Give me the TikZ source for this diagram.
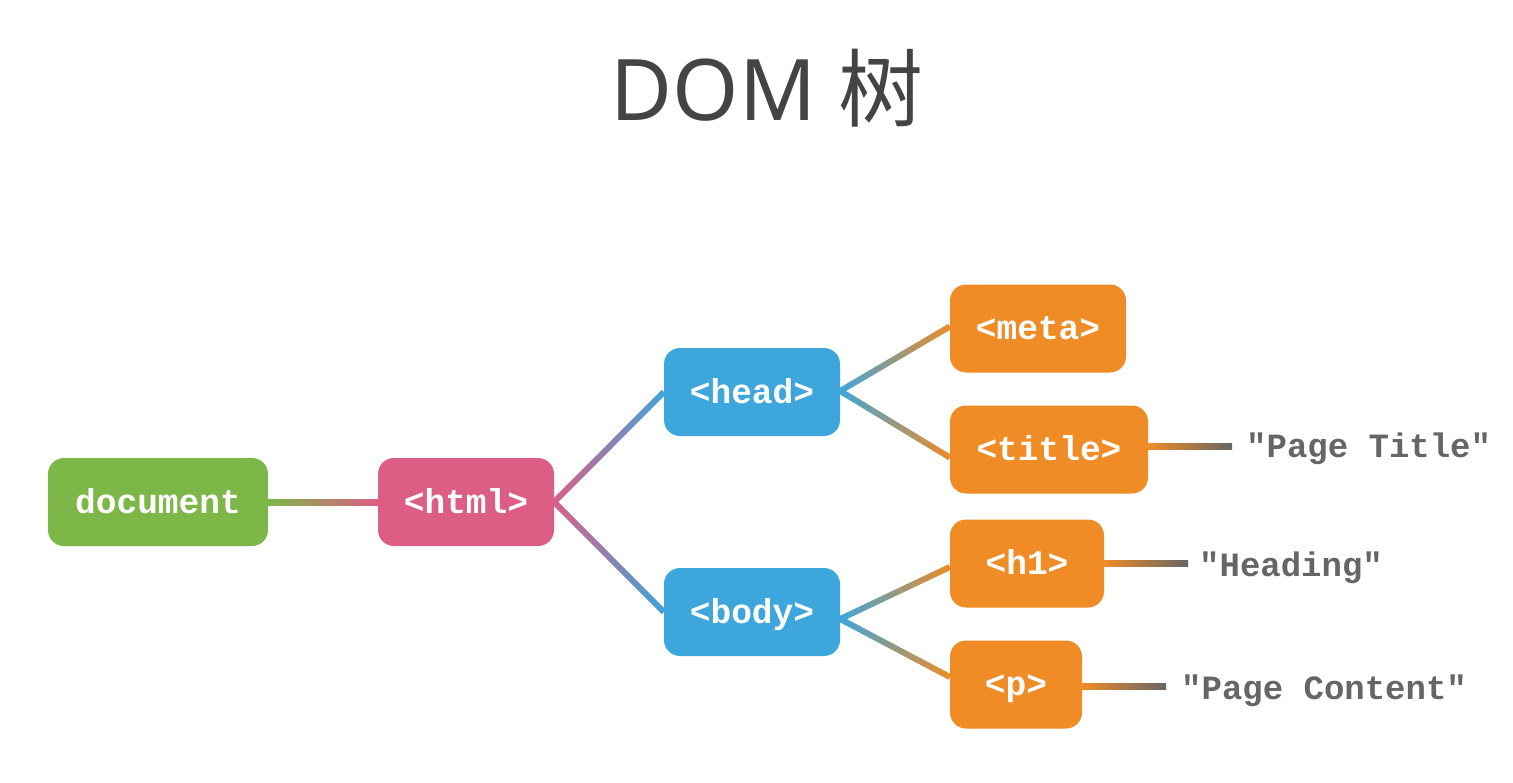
\documentclass[tikz,border=0pt]{standalone}
\usepackage{fontspec}
\setmonofont{Liberation Mono}
\newfontfamily\cjkfont{Noto Sans CJK SC}
\newfontfamily\latfont{Noto Sans}
\usetikzlibrary{calc}
\pgfdeclarelayer{bg}
\pgfdeclarelayer{paper}
\pgfsetlayers{paper,bg,main}
\definecolor{cgreen}{HTML}{7DB748}
\definecolor{cpink}{HTML}{DD5E85}
\definecolor{cblue}{HTML}{3DA6DC}
\definecolor{corange}{HTML}{EF8C25}
\definecolor{cgray}{HTML}{666666}
\definecolor{ctitle}{HTML}{444444}
\newcommand\gradline[4]{%
  \coordinate (ga) at (#1);
  \coordinate (gb) at (#2);
  \pgfpointdiff{\pgfpointanchor{ga}{center}}{\pgfpointanchor{gb}{center}}%
  \pgfgetlastxy{\gdx}{\gdy}%
  \pgfmathsetmacro\gang{atan2(\gdy,\gdx)}%
  \pgfmathsetmacro\glen{veclen(\gdx,\gdy)}%
  \begin{scope}[shift={(ga)}, rotate=\gang]
    \shade[left color=#3, right color=#4] (-1pt,-3pt) rectangle (\glen pt,3pt);
  \end{scope}}
\tikzset{
  box/.style={rounded corners=16pt, minimum height=88pt, text=white,
    font=\ttfamily\bfseries\fontsize{34.5}{34.5}\selectfont,
    text height=27pt, text depth=5pt, inner sep=0pt},
  leaf/.style={anchor=base west, inner sep=0pt, text=cgray,
    font=\ttfamily\bfseries\fontsize{34}{34}\selectfont}
}
\begin{document}
\begin{tikzpicture}[x=1pt,y=-1pt]
\begin{pgfonlayer}{paper}
\fill[white] (0,0) rectangle (1513,782);
\end{pgfonlayer}
\useasboundingbox (0,0) rectangle (1513,782);

\node[anchor=base, text=ctitle, inner sep=0pt, font=\fontsize{85}{85}\selectfont] (heading) at (767,120) {\latfont DOM \cjkfont 树};

\node[box, fill=cgreen, minimum width=220pt] (doc) at (158,502) {document};
\node[box, fill=cpink, minimum width=176pt] (html) at (466,502) {<html>};
\node[box, fill=cblue, minimum width=176pt] (head) at (752,392) {<head>};
\node[box, fill=cblue, minimum width=176pt] (body) at (752,612) {<body>};
\node[box, fill=corange, minimum width=176pt] (meta) at (1038,328.5) {<meta>};
\node[box, fill=corange, minimum width=198pt] (ttl) at (1049,449.5) {<title>};
\node[box, fill=corange, minimum width=154pt] (h1) at (1027,563.5) {<h1>};
\node[box, fill=corange, minimum width=132pt] (p) at (1016,684.5) {<p>};

\coordinate (ttlend) at ($(ttl.east)+(84,-3.5)$);
\coordinate (h1end) at ($(h1.east)+(84,0)$);
\coordinate (pend) at ($(p.east)+(84,2)$);

\node[leaf] (ttltext) at (1246,457) {"Page Title"};
\node[leaf] (h1text) at (1199,576) {"Heading"};
\node[leaf] (ptext) at (1181,699) {"Page Content"};

\begin{pgfonlayer}{bg}
\gradline{doc.east}{html.west}{cgreen}{cpink}
\gradline{html.east}{head.west}{cpink}{cblue}
\gradline{html.east}{body.west}{cpink}{cblue}
\gradline{$(head.east)+(0,-1)$}{$(meta.west)+(0,-2)$}{cblue}{corange}
\gradline{$(head.east)+(0,-1)$}{$(ttl.west)+(0,8)$}{cblue}{corange}
\gradline{$(body.east)+(0,7)$}{$(h1.west)+(0,3.5)$}{cblue}{corange}
\gradline{$(body.east)+(0,7)$}{$(p.west)+(0,-7.5)$}{cblue}{corange}
\gradline{$(ttl.east)+(0,-3.5)$}{ttlend}{corange}{cgray}
\gradline{h1.east}{h1end}{corange}{cgray}
\gradline{$(p.east)+(0,2)$}{pend}{corange}{cgray}
\end{pgfonlayer}
\end{tikzpicture}
\end{document}
